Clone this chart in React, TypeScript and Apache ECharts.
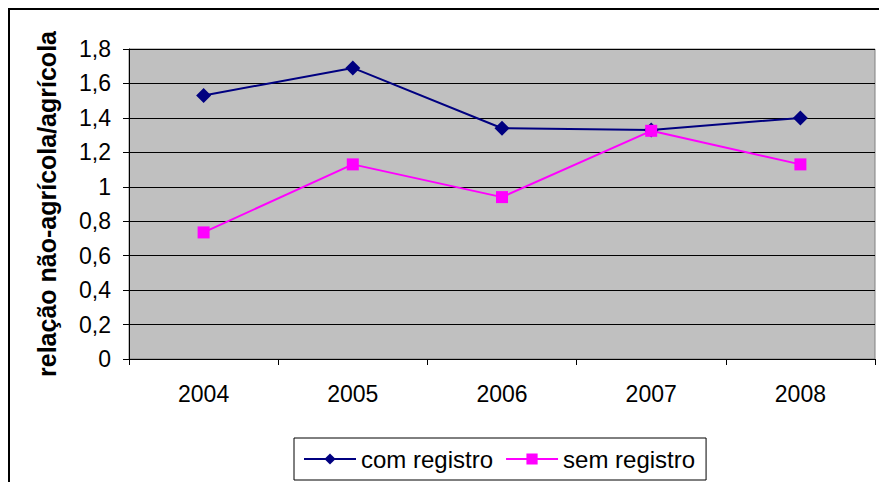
import React, { useEffect, useRef } from "react";
import * as echarts from "echarts";

const categories = ["2004", "2005", "2006", "2007", "2008"];
const comRegistro = [1.53, 1.69, 1.34, 1.33, 1.4];
const semRegistro = [0.735, 1.13, 0.94, 1.325, 1.13];
const seriesNames = ["com registro", "sem registro"];
const yTitle = "relação não-agrícola/agrícola";

export default function App() {
  const ref = useRef<HTMLDivElement>(null);
  useEffect(() => {
    document.body.style.margin = "0";
    const chart = echarts.init(ref.current!, undefined, { renderer: "svg" });
    const font = "Liberation Sans, Arial, sans-serif";
    chart.setOption({
      animation: false,
      backgroundColor: "#ffffff",
      textStyle: { fontFamily: font },
      graphic: [
        {
          type: "rect",
          shape: { x: 9, y: 9, width: 900, height: 500 },
          style: { fill: "none", stroke: "#000", lineWidth: 2 },
          z: 10,
        },
      ],
      grid: {
        left: 129,
        top: 49,
        width: 746,
        height: 310,
        show: true,
        backgroundColor: "#C0C0C0",
        borderColor: "#808080",
        borderWidth: 1,
      },
      legend: {
        left: 294,
        top: 438,
        padding: [9, 11, 9, 9],
        itemGap: 12,
        itemWidth: 52,
        itemHeight: 14,
        borderColor: "#000",
        borderWidth: 1,
        textStyle: { fontSize: 24, color: "#000", fontFamily: font },
        data: seriesNames,
      },
      xAxis: {
        type: "category",
        data: categories,
        boundaryGap: true,
        axisLine: { show: true, lineStyle: { color: "#000", width: 1 } },
        axisTick: { show: true, length: 6, lineStyle: { color: "#000" } },
        axisLabel: { fontSize: 23, color: "#000", margin: 23, fontFamily: font },
        splitLine: { show: false },
      },
      yAxis: {
        type: "value",
        min: 0,
        max: 1.8,
        interval: 0.2,
        name: yTitle,
        nameLocation: "middle",
        nameRotate: 90,
        nameGap: 70,
        nameTextStyle: { fontSize: 25, fontWeight: "bold", color: "#000", fontFamily: font },
        axisLine: { show: true, lineStyle: { color: "#000", width: 1 } },
        axisTick: { show: true, length: 6, lineStyle: { color: "#000" } },
        axisLabel: {
          fontSize: 23,
          color: "#000",
          margin: 18,
          fontFamily: font,
          formatter: (v: number) => String(Math.round(v * 10) / 10).replace(".", ","),
        },
        splitLine: { show: true, lineStyle: { color: "#000", width: 1 } },
      },
      series: [
        {
          name: seriesNames[0],
          type: "line",
          data: comRegistro,
          symbol: "diamond",
          symbolSize: 15,
          itemStyle: { color: "#000080" },
          lineStyle: { color: "#000080", width: 2 },
        },
        {
          name: seriesNames[1],
          type: "line",
          data: semRegistro,
          symbol: "rect",
          symbolSize: 12,
          itemStyle: { color: "#FF00FF" },
          lineStyle: { color: "#FF00FF", width: 2 },
        },
      ],
    });
    return () => chart.dispose();
  }, []);
  return <div ref={ref} style={{ width: 879, height: 482 }} />;
}
